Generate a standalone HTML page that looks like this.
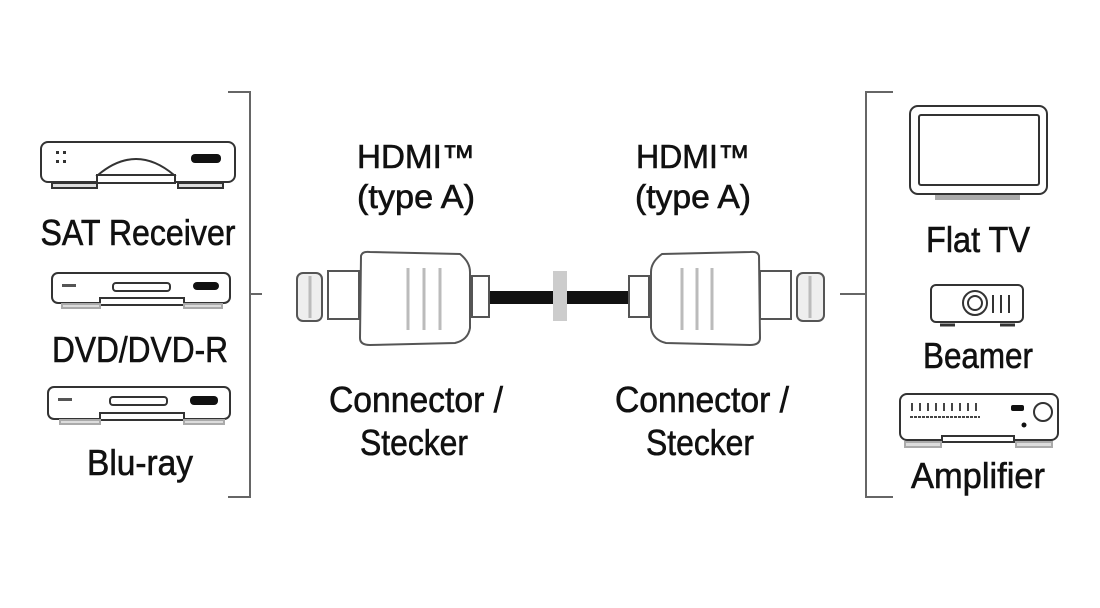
<!DOCTYPE html>
<html><head><meta charset="utf-8"><style>
html,body{margin:0;padding:0;background:#fff;}
svg{display:block;}
text{font-family:"Liberation Sans Narrow","Liberation Sans",sans-serif;fill:#111;stroke:#111;stroke-width:0.6;}
</style></head><body>
<svg width="1100" height="608" viewBox="0 0 1100 608" xmlns="http://www.w3.org/2000/svg">
<g fill="none" stroke="#666" stroke-width="2">
<path d="M228 92H250V497H228M250 294H262"/>
<path d="M893 92H866V497H893M840 294H866"/>
</g>
<!-- SAT receiver -->
<g stroke="#333" stroke-width="2" fill="#fff">
<rect x="41" y="142" width="194" height="40" rx="7"/>
<path d="M98 175 Q136 143 174 175 Z"/>
<rect x="97" y="175" width="78" height="8"/>
<rect x="52" y="183" width="45" height="5" fill="#ddd"/>
<rect x="178" y="183" width="45" height="5" fill="#ddd"/>
</g>
<rect x="191" y="154" width="30" height="9" rx="4" fill="#111"/>
<g fill="#333"><rect x="56" y="151" width="3" height="3"/><rect x="63" y="151" width="3" height="3"/><rect x="56" y="160" width="3" height="3"/><rect x="63" y="160" width="3" height="3"/></g>
<!-- DVD -->
<g stroke="#333" stroke-width="2" fill="#fff">
<rect x="52" y="273" width="178" height="30" rx="6"/>
<rect x="113" y="283" width="57" height="8" rx="3"/>
<rect x="100" y="298" width="84" height="7"/>
<rect x="62" y="304" width="38" height="4" fill="#ddd" stroke="#aaa"/>
<rect x="184" y="304" width="38" height="4" fill="#ddd" stroke="#aaa"/>
</g>
<rect x="193" y="282" width="26" height="8" rx="4" fill="#111"/>
<g fill="#555"><rect x="62" y="284" width="14" height="3"/></g>
<!-- Blu-ray -->
<g stroke="#333" stroke-width="2" fill="#fff">
<rect x="48" y="387" width="182" height="32" rx="6"/>
<rect x="110" y="397" width="57" height="8" rx="3"/>
<rect x="100" y="413" width="84" height="7"/>
<rect x="60" y="420" width="40" height="4" fill="#ddd" stroke="#aaa"/>
<rect x="184" y="420" width="40" height="4" fill="#ddd" stroke="#aaa"/>
</g>
<rect x="190" y="396" width="28" height="9" rx="4" fill="#111"/>
<g fill="#555"><rect x="58" y="398" width="14" height="3"/></g>
<text x="138" y="245" font-size="36" text-anchor="middle" textLength="195" lengthAdjust="spacingAndGlyphs">SAT Receiver</text>
<text x="140" y="362" font-size="36" text-anchor="middle" textLength="176" lengthAdjust="spacingAndGlyphs">DVD/DVD-R</text>
<text x="140" y="475" font-size="36" text-anchor="middle" textLength="106" lengthAdjust="spacingAndGlyphs">Blu-ray</text>
<!-- center labels -->
<text x="416" y="168" font-size="33" text-anchor="middle" textLength="118" lengthAdjust="spacingAndGlyphs">HDMI™</text>
<text x="416" y="208" font-size="33" text-anchor="middle" textLength="118" lengthAdjust="spacingAndGlyphs">(type A)</text>
<text x="693" y="168" font-size="33" text-anchor="middle" textLength="114" lengthAdjust="spacingAndGlyphs">HDMI™</text>
<text x="693" y="208" font-size="33" text-anchor="middle" textLength="116" lengthAdjust="spacingAndGlyphs">(type A)</text>
<text x="416" y="412" font-size="36" text-anchor="middle" textLength="174" lengthAdjust="spacingAndGlyphs">Connector /</text>
<text x="414" y="455" font-size="36" text-anchor="middle" textLength="108" lengthAdjust="spacingAndGlyphs">Stecker</text>
<text x="702" y="412" font-size="36" text-anchor="middle" textLength="174" lengthAdjust="spacingAndGlyphs">Connector /</text>
<text x="700" y="455" font-size="36" text-anchor="middle" textLength="108" lengthAdjust="spacingAndGlyphs">Stecker</text>
<!-- cable -->
<rect x="489" y="291" width="140" height="13" fill="#111"/>
<rect x="553" y="271" width="14" height="50" fill="#ccc"/>
<g stroke="#555" stroke-width="2" fill="#fff">
<rect x="297" y="273" width="25" height="48" rx="6" fill="#eee"/>
<rect x="328" y="271" width="31" height="48"/>
<path d="M361 256 Q362 251 370 252 L460 254 Q470 262 470 272 V328 Q468 340 455 343 L370 345 Q360 345 360 338 Z"/>
<rect x="472" y="276" width="17" height="41"/>
<rect x="629" y="276" width="20" height="41"/>
<path d="M759 256 Q758 251 750 252 L662 254 Q651 262 651 272 V328 Q653 340 666 343 L750 345 Q760 345 760 338 Z"/>
<rect x="760" y="271" width="31" height="48"/>
<rect x="797" y="273" width="27" height="48" rx="6" fill="#eee"/>
</g>
<g stroke="#bbb" stroke-width="3">
<path d="M408 268V330M424 268V330M440 268V330M682 268V330M697 268V330M712 268V330"/>
<path d="M310 276V318M810 276V318"/>
</g>
<!-- TV -->
<g stroke="#333" stroke-width="2" fill="#fff">
<rect x="910" y="106" width="137" height="88" rx="8"/>
<rect x="919" y="115" width="120" height="70" rx="2"/>
<rect x="935" y="195" width="85" height="5" fill="#aaa" stroke="none"/>
</g>
<!-- Beamer -->
<g stroke="#333" stroke-width="2" fill="#fff">
<rect x="931" y="285" width="92" height="37" rx="5"/>
<circle cx="975" cy="303" r="12"/>
<circle cx="975" cy="303" r="7"/>
<path d="M993 295V313M1001 295V313M1009 295V313"/>
<path d="M940 325H955M1000 325H1015" stroke-width="3"/>
</g>
<!-- Amplifier -->
<g stroke="#333" stroke-width="2" fill="#fff">
<rect x="900" y="394" width="158" height="46" rx="7"/>
<circle cx="1043" cy="412" r="9"/>
<rect x="942" y="436" width="72" height="6"/>
<rect x="905" y="442" width="36" height="5" fill="#ddd" stroke="#aaa"/>
<rect x="1016" y="442" width="36" height="5" fill="#ddd" stroke="#aaa"/>
</g>
<g stroke="#444" stroke-width="2"><path d="M912 403V411M920 403V411M928 403V411M936 403V411M944 403V411M952 403V411M960 403V411M968 403V411M976 403V411"/><path d="M910 417H980" stroke-dasharray="3 1"/></g>
<rect x="1011" y="405" width="13" height="6" rx="2" fill="#111"/>
<circle cx="1024" cy="425" r="2.5" fill="#111"/>
<text x="978" y="252" font-size="36" text-anchor="middle" textLength="104" lengthAdjust="spacingAndGlyphs">Flat TV</text>
<text x="978" y="368" font-size="36" text-anchor="middle" textLength="110" lengthAdjust="spacingAndGlyphs">Beamer</text>
<text x="978" y="488" font-size="36" text-anchor="middle" textLength="134" lengthAdjust="spacingAndGlyphs">Amplifier</text>
</svg>
</body></html>
